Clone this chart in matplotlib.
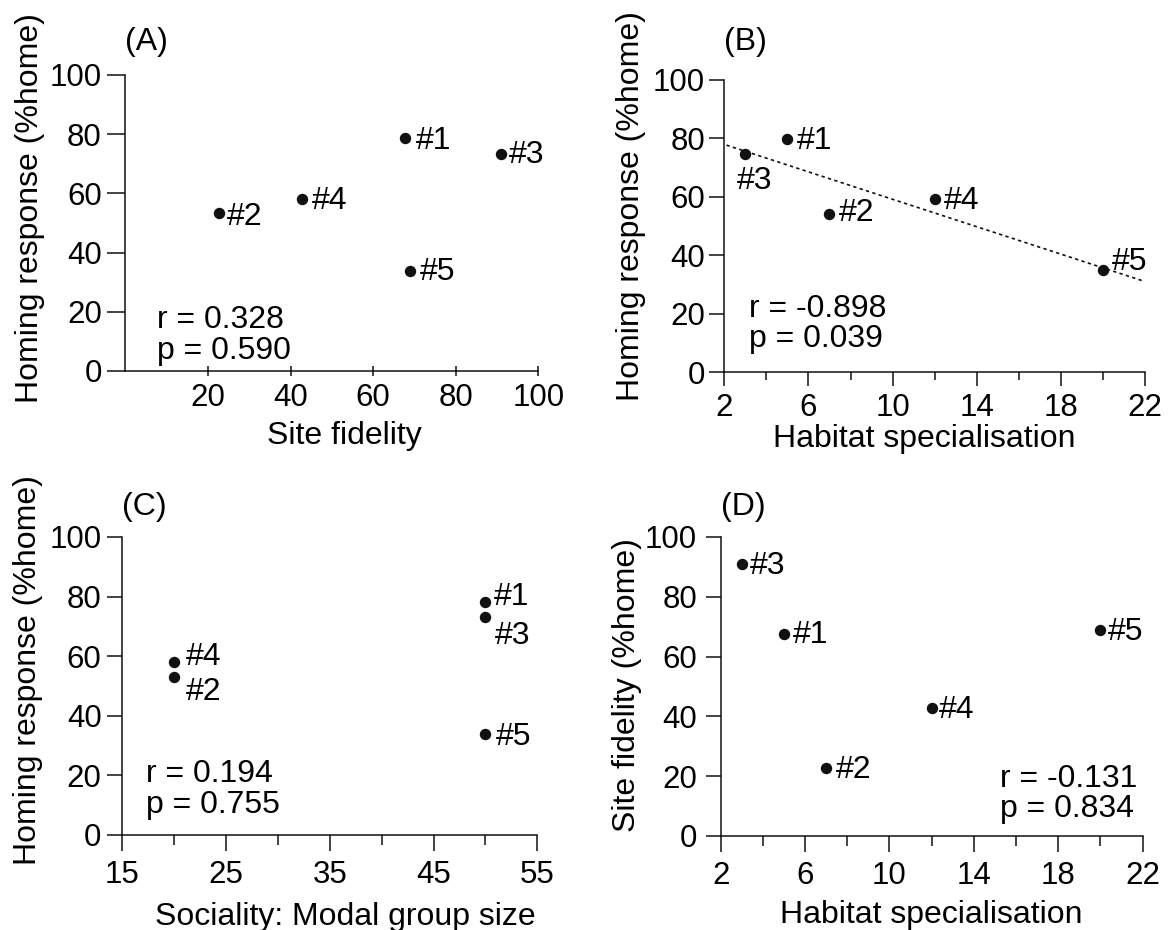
import matplotlib.pyplot as plt
import numpy as np
from matplotlib.ticker import MultipleLocator, FixedLocator

plt.rcParams['font.family'] = ['Liberation Sans', 'DejaVu Sans']
plt.rcParams['font.size'] = 23
plt.rcParams['xtick.labelsize'] = 22.5
plt.rcParams['ytick.labelsize'] = 22.5

# data
labels = ['#1', '#2', '#3', '#4', '#5']
site_fidelity_a = [67.8, 22.7, 90.9, 42.7, 68.9]
homing_a = [78.6, 53.3, 73.3, 58.1, 33.9]
habitat_b = [5, 7, 3, 12, 20]
homing_b = [79.8, 54.2, 74.6, 59.3, 34.9]
group_size_c = [50, 20, 50, 20, 50]
homing_c = [78.2, 53.1, 73.2, 58.1, 34.0]
habitat_d = [5, 7, 3, 12, 20]
site_fidelity_d = [67.7, 22.8, 90.8, 42.7, 68.8]

stats_a = ['r = 0.328', 'p = 0.590']
stats_b = ['r = -0.898', 'p = 0.039']
stats_c = ['r = 0.194', 'p = 0.755']
stats_d = ['r = -0.131', 'p = 0.834']

# label offsets (points) for "#n" text next to each dot
off_a = [(7.2, 0.5), (5.4, 0), (5.9, 1.7), (7, 1.2), (6.8, 1.7)]
off_b = [(6.5, 1.4), (7, 2.7), (-6.2, -16.6), (6.8, 0.7), (6.8, 8.4)]
off_c = [(6.2, 6), (8.6, -8.4), (6.8, -11.5), (8.6, 6), (7.6, 0)]
off_d = [(6.2, 1.2), (6.8, 0.7), (6.2, 1.2), (5.4, 1.2), (5.4, 1.2)]

ink = '#111111'

fig = plt.figure(figsize=(11.68, 9.3), dpi=100)
axA = fig.add_axes([0.1074, 0.6011, 0.3536, 0.3183])
axB = fig.add_axes([0.6202, 0.6000, 0.3599, 0.3140])
axC = fig.add_axes([0.1048, 0.1022, 0.3552, 0.3204])
axD = fig.add_axes([0.6170, 0.1011, 0.3612, 0.3215])


def style(ax, ylen, ypad):
    for s in ['top', 'right']:
        ax.spines[s].set_visible(False)
    for s in ['left', 'bottom']:
        ax.spines[s].set_linewidth(1.1)
        ax.spines[s].set_color(ink)
    ax.set_ylim(0, 100)
    ax.yaxis.set_major_locator(MultipleLocator(20))
    ax.tick_params(axis='y', direction='out', length=ylen, width=1.1, pad=ypad, color=ink)


def dots(ax, x, y, offs):
    ax.plot(x, y, 'o', color=ink, ms=7.2, clip_on=False, zorder=3)
    for name, xi, yi, (dx, dy) in zip(labels, x, y, offs):
        ax.annotate(name, (xi, yi), xytext=(dx, dy), textcoords='offset points',
                    ha='left', va='center_baseline')


def stats(ax, x, y1, y2, txt):
    ax.text(x, y1, txt[0], transform=ax.transAxes, ha='left', va='baseline')
    ax.text(x, y2, txt[1], transform=ax.transAxes, ha='left', va='baseline')


# (A)
style(axA, 13, 4)
axA.set_xlim(0, 100)
axA.xaxis.set_major_locator(FixedLocator([20, 40, 60, 80, 100]))
axA.tick_params(axis='x', direction='inout', length=7, width=1.1, pad=5.5, color=ink)
dots(axA, site_fidelity_a, homing_a, off_a)
stats(axA, 0.077, 0.145, 0.04, stats_a)
axA.set_xlabel('Site fidelity')
axA.set_ylabel('Homing response (%home)')
axA.xaxis.set_label_coords(0.53, -0.168)
axA.yaxis.set_label_coords(-0.195, 0.55)
axA.text(0.0, 1.11, '(A)', transform=axA.transAxes, ha='left', va='center')

# (B)
style(axB, 11, 3)
axB.set_xlim(2, 22)
axB.xaxis.set_major_locator(FixedLocator([2, 6, 10, 14, 18, 22]))
axB.xaxis.set_minor_locator(FixedLocator([4, 8, 12, 16, 20]))
axB.tick_params(axis='x', which='major', direction='out', length=10, width=1.1, pad=5, color=ink)
axB.tick_params(axis='x', which='minor', direction='out', length=6, width=1.1, color=ink)
slope, icpt = np.polyfit(habitat_b, homing_b, 1)
xs = np.array([2.1, 22])
axB.plot(xs, slope * xs + icpt, linestyle=(0, (2, 2)), color=ink, lw=1.2, clip_on=False)
dots(axB, habitat_b, homing_b, off_b)
stats(axB, 0.058, 0.188, 0.086, stats_b)
axB.set_xlabel('Habitat specialisation')
axB.set_ylabel('Homing response (%home)')
axB.xaxis.set_label_coords(0.476, -0.178)
axB.yaxis.set_label_coords(-0.187, 0.568)
axB.text(0.0, 1.13, '(B)', transform=axB.transAxes, ha='left', va='center')

# (C)
style(axC, 11, 4)
axC.set_xlim(15, 55)
axC.xaxis.set_major_locator(FixedLocator([15, 25, 35, 45, 55]))
axC.xaxis.set_minor_locator(FixedLocator([20, 30, 40, 50]))
axC.tick_params(axis='x', which='major', direction='out', length=11.3, width=1.1, pad=6.5, color=ink)
axC.tick_params(axis='x', which='minor', direction='out', length=7.2, width=1.1, color=ink)
dots(axC, group_size_c, homing_c, off_c)
stats(axC, 0.057, 0.178, 0.074, stats_c)
axC.set_xlabel('Sociality: Modal group size')
axC.set_ylabel('Homing response (%home)')
axC.xaxis.set_label_coords(0.537, -0.225)
axC.yaxis.set_label_coords(-0.191, 0.554)
axC.text(0.0, 1.10, '(C)', transform=axC.transAxes, ha='left', va='center')

# (D)
style(axD, 11, 6)
axD.set_xlim(2, 22)
axD.xaxis.set_major_locator(FixedLocator([2, 6, 10, 14, 18, 22]))
axD.xaxis.set_minor_locator(FixedLocator([4, 8, 12, 16, 20]))
axD.tick_params(axis='x', which='major', direction='out', length=11.5, width=1.1, pad=6.5, color=ink)
axD.tick_params(axis='x', which='minor', direction='out', length=7.5, width=1.1, color=ink)
dots(axD, habitat_d, site_fidelity_d, off_d)
stats(axD, 0.661, 0.164, 0.064, stats_d)
axD.set_xlabel('Habitat specialisation')
axD.set_ylabel('Site fidelity (%home)')
axD.xaxis.set_label_coords(0.499, -0.215)
axD.yaxis.set_label_coords(-0.186, 0.505)
axD.text(0.0, 1.10, '(D)', transform=axD.transAxes, ha='left', va='center')

fig.savefig('out.png', dpi=100)
